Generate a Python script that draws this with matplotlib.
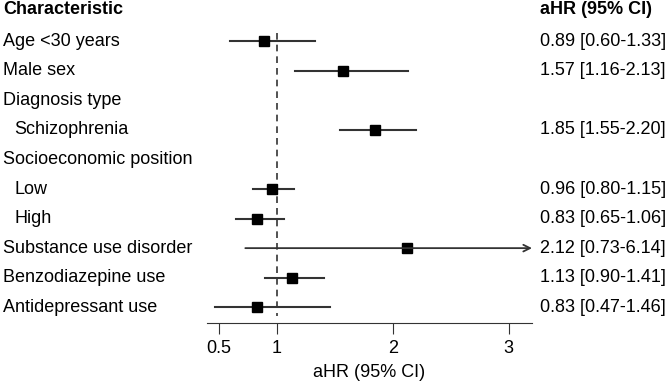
import numpy as np
import matplotlib.pyplot as plt

plt.rcParams['font.family'] = ['Liberation Sans', 'DejaVu Sans']

# rows of the table (None = no estimate, header row of a group)
labels = ['Age <30 years', 'Male sex', 'Diagnosis type', 'Schizophrenia',
          'Socioeconomic position', 'Low', 'High', 'Substance use disorder',
          'Benzodiazepine use', 'Antidepressant use']
indent = [False, False, False, True, False, True, True, False, False, False]
est = [0.89, 1.57, None, 1.85, None, 0.96, 0.83, 2.12, 1.13, 0.83]
lo = [0.60, 1.16, None, 1.55, None, 0.80, 0.65, 0.73, 0.90, 0.47]
hi = [1.33, 2.13, None, 2.20, None, 1.15, 1.06, 6.14, 1.41, 1.46]
xticks = [0.5, 1, 2, 3]
xmin, xmax = 0.4, 3.2

fig = plt.figure(figsize=(6.7, 3.83), dpi=100)
ax = fig.add_axes([207 / 670, 60 / 383, 325 / 670, 323 / 383])
ax.set_xlim(xmin, xmax)
ax.set_ylim(9.53, -1.385)

# reference line at 1
ax.plot([1, 1], [-0.27, 9.3], color='#333333', lw=1.2, ls=(0, (4, 3)))

for i in range(len(labels)):
    if est[i] is None:
        continue
    if hi[i] > xmax:
        ax.annotate('', xy=(xmax, i), xytext=(lo[i], i),
                    arrowprops=dict(arrowstyle='->', color='#333333', lw=1.3,
                                    shrinkA=0, shrinkB=0, mutation_scale=12),
                    annotation_clip=False)
    else:
        ax.plot([lo[i], hi[i]], [i, i], color='#333333', lw=1.5)
    ax.plot(est[i], i, 's', color='black', ms=6.5)

# left and right text columns
fs = 13
fig.text(3 / 670, 1 - 10 / 383, 'Characteristic', fontsize=fs, fontweight='bold', va='center')
fig.text(540 / 670, 1 - 10 / 383, 'aHR (95% CI)', fontsize=fs, fontweight='bold', va='center')
for i, lab in enumerate(labels):
    ypix = 41 + 29.6 * i
    x0 = 14 if indent[i] else 3
    fig.text(x0 / 670, 1 - ypix / 383, lab, fontsize=fs, va='center')
    if est[i] is not None:
        txt = f'{est[i]:.2f} [{lo[i]:.2f}-{hi[i]:.2f}]'
        fig.text(540 / 670, 1 - ypix / 383, txt, fontsize=fs, va='center')

for s in ['top', 'left', 'right']:
    ax.spines[s].set_visible(False)
ax.spines['bottom'].set_color('#333333')
ax.set_yticks([])
ax.set_xticks(xticks)
ax.set_xticklabels([str(t) for t in xticks])
ax.tick_params(axis='x', length=8, color='#333333', labelsize=fs, pad=4)
ax.set_xlabel('aHR (95% CI)', fontsize=fs, labelpad=5)

fig.savefig('out.png', dpi=100)
